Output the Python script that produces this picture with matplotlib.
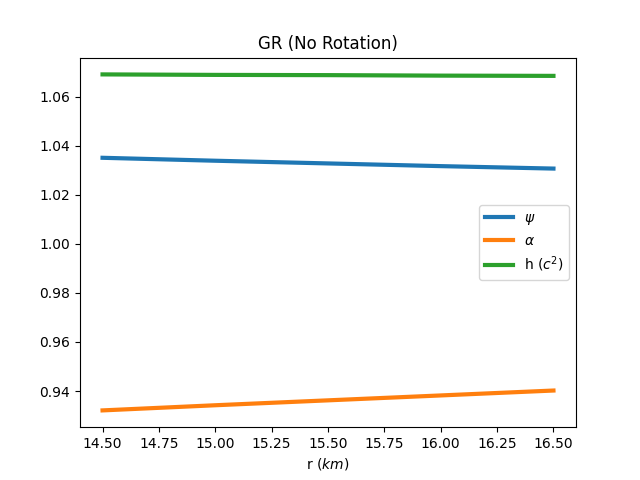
import matplotlib
matplotlib.use("Agg")
import matplotlib.pyplot as plt

r = [14.5, 15.0, 15.5, 16.0, 16.5]
psi = [1.0351, 1.0339, 1.0328, 1.0317, 1.0307]
alpha = [0.9321, 0.9342, 0.9362, 0.9382, 0.9402]
h = [1.0691, 1.0689, 1.0688, 1.0686, 1.0685]

fig, ax = plt.subplots(figsize=(6.4, 4.8), dpi=100)
ax.plot(r, psi, lw=3, label=r'$\psi$')
ax.plot(r, alpha, lw=3, label=r'$\alpha$')
ax.plot(r, h, lw=3, label=r'h ($c^2$)')
ax.set_title('GR (No Rotation)')
ax.set_xlabel(r'r ($km$)')
ax.legend(loc='center right')
fig.savefig('out.png')
